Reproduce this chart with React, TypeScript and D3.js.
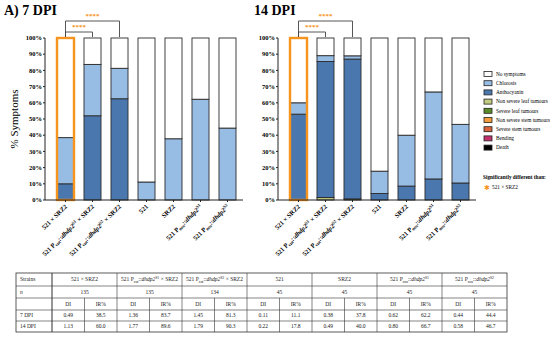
import React from 'react';
import { scaleBand, scaleLinear, stack } from 'd3';

// categories
const strains = ['s0', 's1', 's2', 's3', 's4', 's5', 's6'];
const strainLabels = ['521 × SRZ2', 'cut1', 'cut2', '521', 'SRZ2', 'nos1', 'nos2'];
const yTicks = [0, 10, 20, 30, 40, 50, 60, 70, 80, 90, 100];

// symptom classes, bottom to top of the stack
const symptoms = ['Death', 'Bending', 'Severe stem tumours', 'Non severe stem tumours', 'Severe leaf tumours', 'Non severe leaf tumours', 'Anthocyanin', 'Chlorosis', 'No symptoms'];
const symptomColors = ['#000000', '#c2306e', '#d7643a', '#f39c3c', '#5b8c2a', '#c3cd82', '#4a77ae', '#98bde4', '#ffffff'];

// 7 DPI (% of plants)
const anthocyanin7 = [10, 52, 62.5, 0, 0, 0, 0];
const chlorosis7 = [28.5, 31.7, 18.8, 11.1, 37.8, 62.2, 44.4];
const noSymptoms7 = [61.5, 16.3, 18.7, 88.9, 62.2, 37.8, 55.6];

// 14 DPI (% of plants)
const nsLeaf14 = [0, 1.5, 0, 0, 0, 0, 0];
const sLeaf14 = [0, 0, 0.7, 0, 0, 0, 0];
const anthocyanin14 = [53, 84, 86.3, 4, 8.6, 13, 10.5];
const chlorosis14 = [7, 3.6, 2, 13.8, 31.4, 53.7, 36.2];
const noSymptoms14 = [40, 10.9, 11, 82.2, 60, 33.3, 53.3];

// table
const tableN = ['135', '135', '134', '45', '45', '45', '45'];
const di7 = ['0.49', '1.36', '1.45', '0.11', '0.38', '0.62', '0.44'];
const ir7 = ['38.5', '83.7', '81.3', '11.1', '37.8', '62.2', '44.4'];
const di14 = ['1.13', '1.77', '1.79', '0.22', '0.49', '0.80', '0.58'];
const ir14 = ['60.0', '89.6', '90.3', '17.8', '40.0', '66.7', '46.7'];

const serif = '"Liberation Serif", "Times New Roman", serif';
const ORANGE = '#f7941d';
const zeros = [0, 0, 0, 0, 0, 0, 0];

function buildRows(series: number[][]) {
  return strains.map((s, i) => {
    const row: any = { key: s };
    symptoms.forEach((k, j) => { row[k] = series[j][i]; });
    return row;
  });
}

const rows7 = buildRows([zeros, zeros, zeros, zeros, zeros, zeros, anthocyanin7, chlorosis7, noSymptoms7]);
const rows14 = buildRows([zeros, zeros, zeros, zeros, sLeaf14, nsLeaf14, anthocyanin14, chlorosis14, noSymptoms14]);

// strain names with promoter subscript / allele superscript
function StrainLabel({ kind, size }: { kind: string; size: number }) {
  const small = size * 0.7;
  if (kind === 'cut1' || kind === 'cut2' || kind === 'nos1' || kind === 'nos2') {
    const prom = kind.startsWith('cut') ? 'cut' : 'nos';
    const sup = kind.endsWith('1') ? 'S1' : 'S2';
    const cross = kind.startsWith('cut');
    return (
      <>
        <tspan>521 P</tspan>
        <tspan fontSize={small} dy={size * 0.2}>{prom}</tspan>
        <tspan dy={-size * 0.2}>::</tspan>
        <tspan fontStyle="italic">dhdp2</tspan>
        <tspan fontSize={small} dy={-size * 0.35}>{sup}</tspan>
        <tspan dy={size * 0.35}>{cross ? ' × SRZ2' : ''}</tspan>
      </>
    );
  }
  return <tspan>{kind}</tspan>;
}

function Panel({ rows, x0, axisX, title, titleX }: { rows: any[]; x0: number; axisX: number; title: string; titleX: number }) {
  const x = scaleBand<string>().domain(strains).range([x0 - 5, x0 - 5 + 27 * 7]).paddingInner(0.37).paddingOuter(0.185);
  const y = scaleLinear().domain([0, 100]).range([200, 38]);
  const layers = stack<any>().keys(symptoms)(rows);
  const bw = x.bandwidth();
  const cx = (i: number) => (x(strains[i]) as number) + bw / 2;
  const xEnd = x0 - 5 + 27 * 7 + 2;
  return (
    <g>
      <text x={titleX} y={15} fontFamily={serif} fontWeight="bold" fontSize={14}>{title}</text>
      {layers.map((layer, j) => (
        <g key={symptoms[j]}>
          {layer.map((d, i) => (d[1] - d[0] > 0 ? (
            <rect key={i} x={x(strains[i])} y={y(d[1])} width={bw} height={y(d[0]) - y(d[1])}
              fill={symptomColors[j]} stroke="#2b2b2b" strokeWidth={0.9} />
          ) : null))}
        </g>
      ))}
      <rect x={x(strains[0])} y={y(100)} width={bw} height={y(0) - y(100)} fill="none" stroke={ORANGE} strokeWidth={2.4} />
      {/* axes */}
      <line x1={axisX} x2={axisX} y1={y(100)} y2={y(0)} stroke="#222" strokeWidth={1} />
      <line x1={axisX} x2={xEnd} y1={y(0)} y2={y(0)} stroke="#222" strokeWidth={1} />
      {yTicks.map(t => (
        <g key={t}>
          <line x1={axisX - 2} x2={axisX} y1={y(t)} y2={y(t)} stroke="#222" />
          <text x={axisX - 3} y={y(t)} dy="0.33em" textAnchor="end" fontFamily={serif} fontWeight="bold" fontSize={6.5}>{t}%</text>
        </g>
      ))}
      {strains.map((s, i) => (
        <g key={s}>
          <line x1={cx(i)} x2={cx(i)} y1={y(0)} y2={y(0) + 2} stroke="#222" />
          <text transform={`translate(${cx(i) + 2},${y(0) + 7}) rotate(-45)`} textAnchor="end" fontFamily={serif} fontWeight="bold" fontSize={6.5}>
            <StrainLabel kind={strainLabels[i]} size={6.5} />
          </text>
        </g>
      ))}
      {/* significance brackets */}
      <path d={`M${cx(0)},${y(100) - 1}V21H${cx(2)}V${y(100) - 1}`} fill="none" stroke="#444" strokeWidth={0.9} />
      <path d={`M${cx(0)},${y(100) - 1}V32H${cx(1)}V${y(100) - 1}`} fill="none" stroke="#444" strokeWidth={0.9} />
      <text x={(cx(0) + cx(2)) / 2} y={18} textAnchor="middle" fill={ORANGE} fontFamily={serif} fontWeight="bold" fontSize={7}>****</text>
      <text x={(cx(0) + cx(1)) / 2} y={29} textAnchor="middle" fill={ORANGE} fontFamily={serif} fontWeight="bold" fontSize={7}>****</text>
    </g>
  );
}

function Legend() {
  const order = symptoms.slice().reverse();
  const colors = symptomColors.slice().reverse();
  return (
    <g fontFamily={serif} fontSize={5.3}>
      {order.map((s, i) => (
        <g key={s} transform={`translate(484,${71.5 + i * 9.2})`}>
          <rect width={8} height={5} fill={colors[i]} stroke="#222" strokeWidth={0.8} />
          <text x={12} y={4.3}>{s}</text>
        </g>
      ))}
      <text x={483} y={179} fontWeight="bold">Significantly different than:</text>
      <text x={484} y={189.5} fill={ORANGE} fontSize={7}>✱</text>
      <text x={492} y={188.5}>521 × SRZ2</text>
    </g>
  );
}

function Table() {
  const left = 16;
  const firstW = 36;
  const groupW = 65;
  const rowY = [273, 286, 298, 310, 321, 332];
  const right = left + firstW + groupW * 7;
  const gx = (i: number) => left + firstW + i * groupW;
  const fs = 5.5;
  const mid = (r: number) => (rowY[r] + rowY[r + 1]) / 2 + 1.9;
  return (
    <g fontFamily={serif} fontSize={fs} fill="#222">
      <rect x={left} y={rowY[0]} width={right - left} height={rowY[5] - rowY[0]} fill="#fff" stroke="#333" strokeWidth={0.8} />
      {rowY.slice(1, 5).map(v => <line key={v} x1={left} x2={right} y1={v} y2={v} stroke="#333" strokeWidth={0.6} />)}
      <line x1={left + firstW} x2={left + firstW} y1={rowY[0]} y2={rowY[5]} stroke="#333" strokeWidth={0.6} />
      {strainLabels.map((s, i) => (
        <g key={i}>
          <line x1={gx(i)} x2={gx(i)} y1={rowY[0]} y2={rowY[5]} stroke="#333" strokeWidth={0.6} />
          <line x1={gx(i) + groupW / 2} x2={gx(i) + groupW / 2} y1={rowY[2]} y2={rowY[5]} stroke="#333" strokeWidth={0.6} />
          <text x={gx(i) + groupW / 2} y={mid(0)} textAnchor="middle"><StrainLabel kind={s} size={fs} /></text>
          <text x={gx(i) + groupW / 2} y={mid(1)} textAnchor="middle">{tableN[i]}</text>
          <text x={gx(i) + groupW / 4} y={mid(2)} textAnchor="middle">DI</text>
          <text x={gx(i) + groupW * 3 / 4} y={mid(2)} textAnchor="middle">IR%</text>
          <text x={gx(i) + groupW / 4} y={mid(3)} textAnchor="middle">{di7[i]}</text>
          <text x={gx(i) + groupW * 3 / 4} y={mid(3)} textAnchor="middle">{ir7[i]}</text>
          <text x={gx(i) + groupW / 4} y={mid(4)} textAnchor="middle">{di14[i]}</text>
          <text x={gx(i) + groupW * 3 / 4} y={mid(4)} textAnchor="middle">{ir14[i]}</text>
        </g>
      ))}
      <text x={left + 4} y={mid(0)}>Strains</text>
      <text x={left + 4} y={mid(1)} fontStyle="italic">n</text>
      <text x={left + 4} y={mid(3)}>7 DPI</text>
      <text x={left + 4} y={mid(4)}>14 DPI</text>
    </g>
  );
}

export default function App() {
  return (
    <svg width={550} height={337} style={{ position: 'absolute', left: 0, top: 0, background: '#fff' }}>
      <rect width={550} height={337} fill="#fff" />
      <text transform="translate(18,119) rotate(-90)" textAnchor="middle" fontFamily={serif} fontSize={11}>% Symptoms</text>
      <Panel rows={rows7} x0={57} axisX={45} title="A) 7 DPI" titleX={4} />
      <Panel rows={rows14} x0={290} axisX={278} title="14 DPI" titleX={254} />
      <Legend />
      <Table />
    </svg>
  );
}
